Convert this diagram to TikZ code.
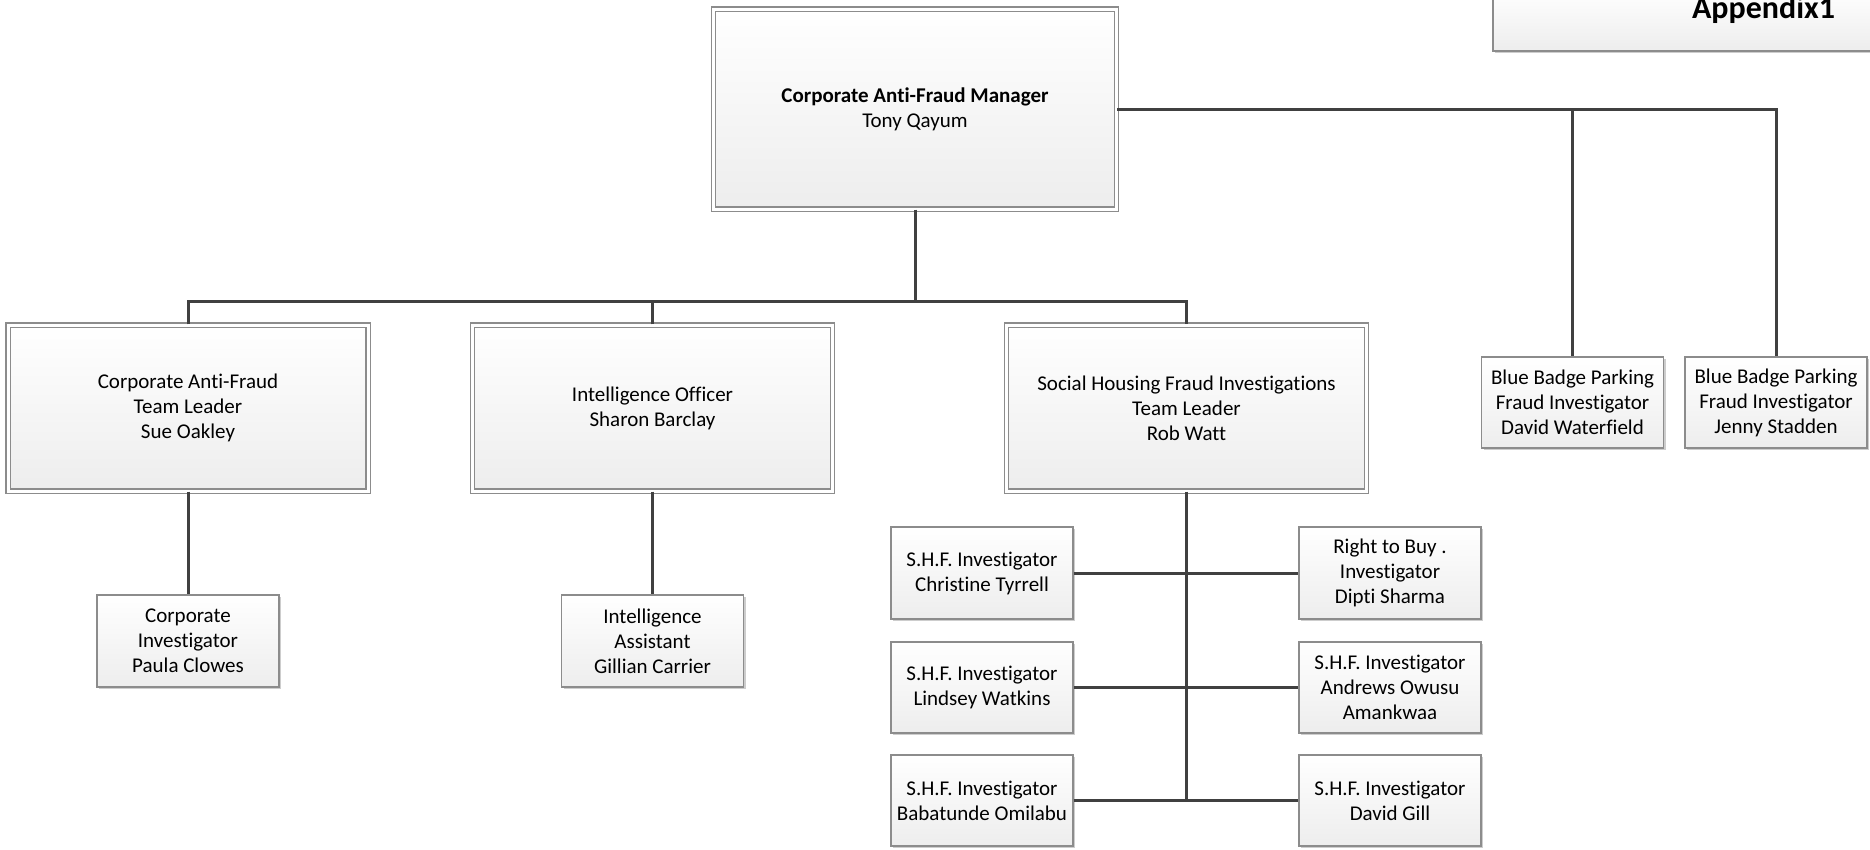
\documentclass[tikz,border=0pt]{standalone}
\usepackage{fontspec}
\setmainfont{Carlito}[Ligatures=NoCommon]
\usetikzlibrary{shadows}
\definecolor{boxline}{RGB}{140,140,140}
\definecolor{connline}{RGB}{64,64,64}
\definecolor{fillbot}{RGB}{237,237,237}
\definecolor{shadowc}{RGB}{205,205,205}
\begin{document}
\begin{tikzpicture}[x=1pt,y=-1pt,
  basebox/.style={draw=boxline, line width=1.3pt, top color=white, bottom color=fillbot,
    inner sep=0pt, align=center, font=\fontsize{21}{25}\selectfont,
    drop shadow={shadow xshift=2pt, shadow yshift=-2pt, fill=shadowc, opacity=1}},
  bigbox/.style={basebox, double=white, double distance=3pt, line width=1.2pt,
    minimum width=360pt, minimum height=166pt},
  smallbox/.style={basebox, minimum width=182pt, minimum height=91pt},
  conn/.style={draw=connline, line width=3pt}]
\useasboundingbox (0,0) rectangle (1870,849);
\clip (0,0) rectangle (1870,849);

% appendix box
\node[basebox, minimum width=387pt, minimum height=61pt, align=right, text width=297pt,
  text height=0pt, text depth=5pt, font=\fontsize{32}{36}\selectfont\bfseries] (app) at (1686.5,20.5) {Appendix1};

% top manager
\node[bigbox, minimum width=403pt, minimum height=200pt] (top) at (915,109)
  {\textbf{Corporate Anti-Fraud Manager}\\Tony Qayum};

% second level
\node[bigbox] (caf) at (188,408) {Corporate Anti-Fraud\\Team Leader\\Sue Oakley};
\node[bigbox] (io) at (652.5,408) {Intelligence Officer\\Sharon Barclay};
\node[bigbox] (shf) at (1186.5,408) {Social Housing Fraud Investigations\\Team Leader\\Rob Watt};

% blue badge
\node[smallbox] (bb1) at (1572.5,402.5) {Blue Badge Parking\\Fraud Investigator\\David Waterfield};
\node[smallbox] (bb2) at (1776,402.5) {Blue Badge Parking\\Fraud Investigator\\Jenny Stadden};

% third level
\node[smallbox, minimum height=92pt] (ci) at (188,641) {Corporate\\Investigator\\Paula Clowes};
\node[smallbox, minimum height=92pt] (ia) at (652.5,641) {Intelligence\\Assistant\\Gillian Carrier};

% SHF team
\node[smallbox, minimum height=92pt] (s1) at (982,573) {S.H.F. Investigator\\Christine Tyrrell};
\node[smallbox, minimum height=92pt] (r1) at (1390,573) {Right to Buy .\\Investigator\\Dipti Sharma};
\node[smallbox] (s2) at (982,687.5) {S.H.F. Investigator\\Lindsey Watkins};
\node[smallbox] (r2) at (1390,687.5) {S.H.F. Investigator\\Andrews Owusu\\Amankwaa};
\node[smallbox] (s3) at (982,800.5) {S.H.F. Investigator\\Babatunde Omilabu};
\node[smallbox] (r3) at (1390,800.5) {S.H.F. Investigator\\David Gill};

% connectors
\coordinate (bus) at (915,301);
\draw[conn] (top.south) -- (bus);
\draw[conn] (caf.north) |- (bus) -| (shf.north);
\draw[conn] (io.north) -- (io.north |- bus);
\draw[conn] (top.east) -| (bb1.north);
\draw[conn] (top.east) -| (bb2.north);
\draw[conn] (caf.south) -- (ci.north);
\draw[conn] (io.south) -- (ia.north);
\draw[conn] (shf.south) -- (shf.south |- s3.east);
\draw[conn] (s1.east) -- (r1.west);
\draw[conn] (s2.east) -- (r2.west);
\draw[conn] (s3.east) -- (r3.west);
\end{tikzpicture}
\end{document}
